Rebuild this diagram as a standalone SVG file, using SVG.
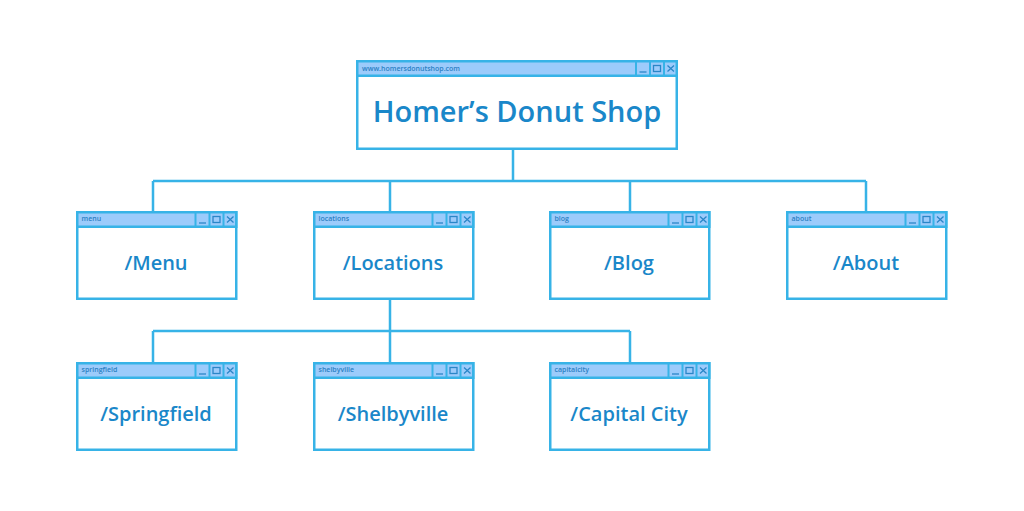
<svg xmlns="http://www.w3.org/2000/svg" width="1024" height="511" viewBox="0 0 1024 511">
<style>
.frame{fill:#ffffff;stroke:#37b3e7;stroke-width:2.5}
.bar{fill:#9ccbfb;stroke:#37b3e7;stroke-width:2.5}
.sep{stroke:#37b3e7;stroke-width:2}
.ico{stroke:#2a86c8;stroke-width:1.3;fill:none}
.conn{stroke:#37b3e7;stroke-width:2.5;fill:none}
.lbl{font-family:"Open Sans","Noto Sans",sans-serif;font-weight:600;fill:#1a87c9;text-anchor:middle}
.url{font-family:"Open Sans","Noto Sans",sans-serif;font-weight:600;font-size:7px;fill:#2a80c4}
</style>
<defs>
<g id="btns">
<line class="sep" x1="-42" y1="0" x2="-42" y2="15"/>
<line class="sep" x1="-28" y1="0" x2="-28" y2="15"/>
<line class="sep" x1="-14" y1="0" x2="-14" y2="15"/>
<line class="ico" x1="-38.5" y1="11" x2="-31.5" y2="11"/>
<rect class="ico" x="-24.5" y="4.5" width="7" height="6"/>
<path class="ico" d="M-10.5 4.5 L-4 10.5 M-4 4.5 L-10.5 10.5"/>
</g>
<g id="win">
<rect class="frame" x="1.25" y="1.25" width="159" height="86.5"/>
<rect class="bar" x="1.25" y="1.25" width="159" height="14.5"/>
<use href="#btns" x="161.5" y="1"/>
</g>
</defs>

<g id="connectors">
<path class="conn" d="M513 149 V181 M153 181 H866 M153 181 V212 M390 181 V212 M630 181 V212 M866 181 V212"/>
<path class="conn" d="M390 300 V331 M153 331 H630 M153 331 V362 M390 331 V362 M630 331 V362"/>
</g>

<g id="home">
<rect class="frame" x="357.25" y="61.25" width="319.5" height="87.5"/>
<rect class="bar" x="357.25" y="61.25" width="319.5" height="14.5"/>
<use href="#btns" x="678" y="61"/>
<text class="url" x="362" y="70.8">www.homersdonutshop.com</text>
<text class="lbl" x="517" y="122" font-size="29">Homer’s Donut Shop</text>
</g>

<g id="menu" transform="translate(76,211)">
<use href="#win"/>
<text class="url" x="5.5" y="10">menu</text>
<text class="lbl" x="80" y="58.5" font-size="20">/Menu</text>
</g>
<g id="locations" transform="translate(313,211)">
<use href="#win"/>
<text class="url" x="5.5" y="10">locations</text>
<text class="lbl" x="80" y="58.5" font-size="20">/Locations</text>
</g>
<g id="blog" transform="translate(549,211)">
<use href="#win"/>
<text class="url" x="5.5" y="10">blog</text>
<text class="lbl" x="80" y="58.5" font-size="20">/Blog</text>
</g>
<g id="about" transform="translate(786,211)">
<use href="#win"/>
<text class="url" x="5.5" y="10">about</text>
<text class="lbl" x="80" y="58.5" font-size="20">/About</text>
</g>
<g id="springfield" transform="translate(76,362)">
<use href="#win"/>
<text class="url" x="5.5" y="10">springfield</text>
<text class="lbl" x="80" y="58.5" font-size="20">/Springfield</text>
</g>
<g id="shelbyville" transform="translate(313,362)">
<use href="#win"/>
<text class="url" x="5.5" y="10">shelbyville</text>
<text class="lbl" x="80" y="58.5" font-size="20">/Shelbyville</text>
</g>
<g id="capitalcity" transform="translate(549,362)">
<use href="#win"/>
<text class="url" x="5.5" y="10">capitalcity</text>
<text class="lbl" x="80" y="58.5" font-size="20">/Capital City</text>
</g>
</svg>
